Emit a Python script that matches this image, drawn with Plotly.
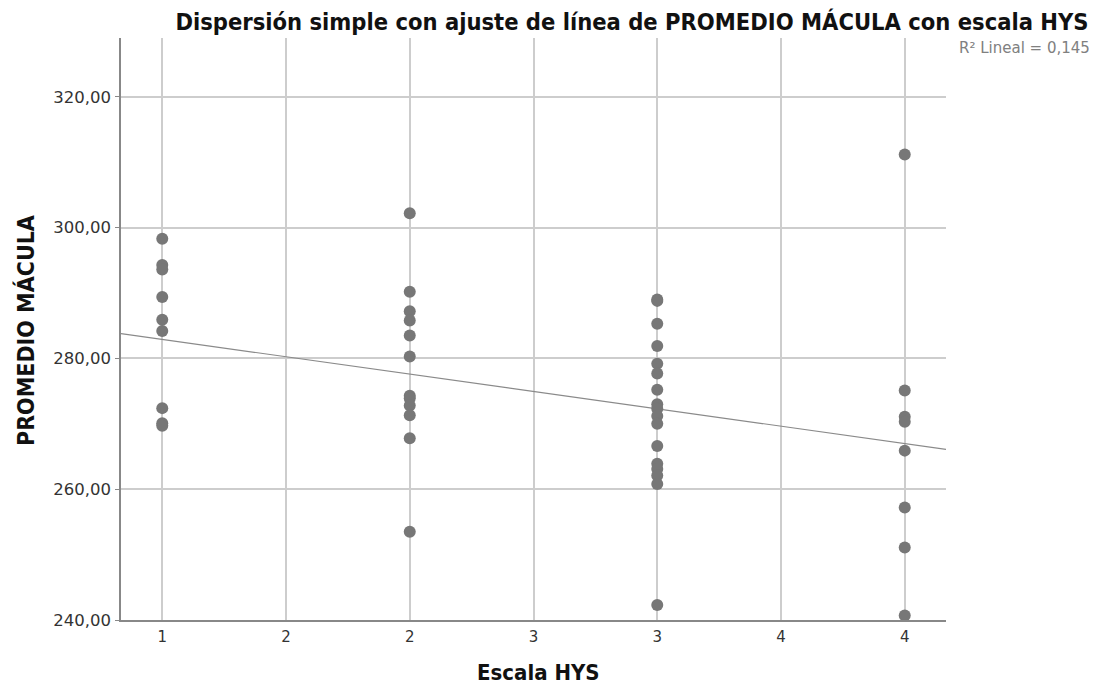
import plotly.graph_objects as go

# Data
hys_1 = [298.3, 294.3, 293.6, 289.4, 285.9, 284.2, 272.4, 270.1, 269.7]
hys_2 = [302.2, 290.2, 287.2, 285.8, 283.5, 280.3, 274.3, 273.9, 272.8, 271.3, 267.8, 253.5]
hys_3 = [289.0, 288.8, 285.3, 281.9, 279.2, 277.7, 275.2, 273.0, 272.3, 271.2, 270.0,
         266.6, 263.9, 263.1, 262.1, 260.8, 242.3]
hys_4 = [311.2, 275.1, 271.1, 270.3, 265.9, 257.2, 251.1, 240.7]

groups = [1, 2, 3, 4]
group_values = [hys_1, hys_2, hys_3, hys_4]

x_vals = []
y_vals = []
for g, vals in zip(groups, group_values):
    x_vals += [g] * len(vals)
    y_vals += vals

# Linear fit line (ends at the plot edges)
fit_x = [0.8333, 4.1667]
fit_y = [283.8, 266.1]
r2_text = "R² Lineal = 0,145"

x_tickvals = [1, 1.5, 2, 2.5, 3, 3.5, 4]
x_ticktext = ["1", "2", "2", "3", "3", "4", "4"]
y_tickvals = [240, 260, 280, 300, 320]

title_font = "DejaVu Sans Condensed, Roboto Condensed, Liberation Sans Narrow, Roboto, sans-serif"
tick_font = "DejaVu Sans, sans-serif"

OFF = 8  # page body offset of the figure in the browser

fig = go.Figure()
fig.add_trace(go.Scatter(
    x=fit_x, y=fit_y, mode="lines",
    line=dict(color="#8a8a8a", width=1.2),
    hoverinfo="skip", showlegend=False,
))
fig.add_trace(go.Scatter(
    x=x_vals, y=y_vals, mode="markers",
    marker=dict(color="#777777", size=12, line=dict(width=0)),
    showlegend=False,
))

fig.update_layout(
    width=1097, height=686,
    paper_bgcolor="white", plot_bgcolor="white",
    margin=dict(l=121 - OFF, r=151 + OFF, t=38 - OFF, b=66 + OFF),
    separators=",.",
    title=dict(
        text="<b>Dispersión simple con ajuste de línea de PROMEDIO MÁCULA con escala HYS</b>",
        font=dict(family=title_font, size=23.5, color="#111111"),
        x=(632 - OFF) / 1097, xanchor="center", xref="container",
        y=1 - (6 - OFF + 8) / 686, yanchor="top", yref="container",
    ),
    xaxis=dict(
        range=[0.8333, 4.1667],
        tickvals=x_tickvals, ticktext=x_ticktext,
        showgrid=True, gridcolor="#cdcdcd", gridwidth=1.5,
        zeroline=False,
        showline=True, linecolor="#888888", linewidth=1.5,
        ticks="", ticklabelstandoff=2,
        tickfont=dict(family=tick_font, size=15, color="#333333"),
        fixedrange=True,
    ),
    yaxis=dict(
        range=[240, 329],
        tickvals=y_tickvals, tickformat=".2f",
        showgrid=True, gridcolor="#cdcdcd", gridwidth=1.5,
        zeroline=False,
        showline=True, linecolor="#888888", linewidth=1.5,
        ticks="outside", ticklen=4, tickcolor="#888888",
        ticklabelstandoff=1,
        tickfont=dict(family=tick_font, size=16.5, color="#333333"),
        fixedrange=True,
    ),
    annotations=[
        dict(text="<b>Escala HYS</b>", xref="paper", yref="paper",
             x=(538 - 121) / 825, y=-(672 - 620) / 582,
             xanchor="center", yanchor="middle", showarrow=False,
             font=dict(family=title_font, size=22, color="#111111")),
        dict(text="<b>PROMEDIO MÁCULA</b>", xref="paper", yref="paper",
             x=-(121 - 25) / 825, y=(620 - 331) / 582,
             xanchor="center", yanchor="middle", showarrow=False, textangle=-90,
             font=dict(family=title_font, size=23, color="#111111")),
        dict(text=r2_text, xref="paper", yref="paper",
             x=(1092 - 121) / 825, y=(620 - 48) / 582,
             xanchor="right", yanchor="middle", showarrow=False,
             font=dict(family=tick_font, size=15, color="#808080")),
    ],
)

fig.write_html("out.html")
